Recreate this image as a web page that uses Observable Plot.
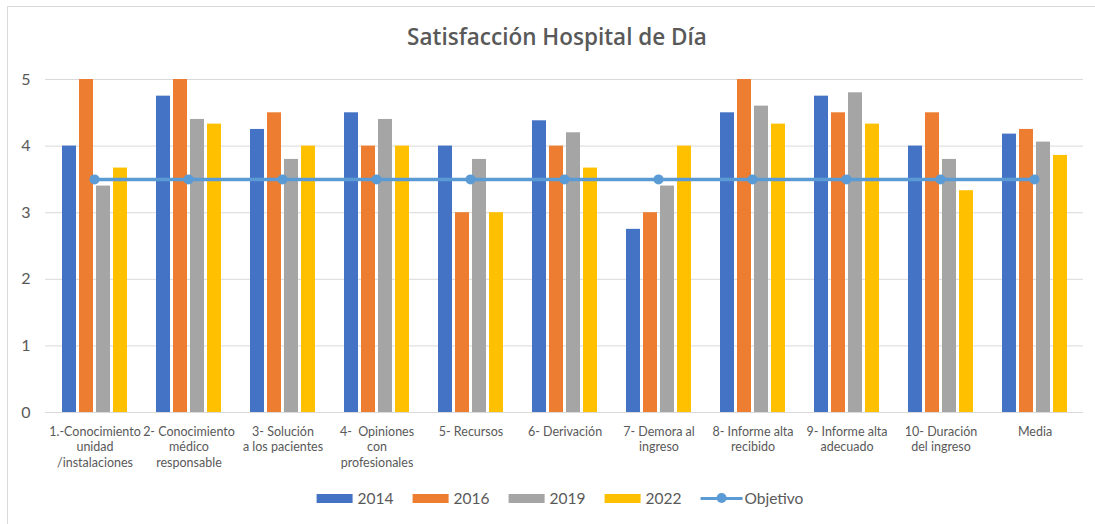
<!DOCTYPE html>
<html>
<head>
<meta charset="utf-8">
<script src="https://cdn.jsdelivr.net/npm/d3@7"></script>
<script src="https://cdn.jsdelivr.net/npm/@observablehq/plot@0.6"></script>
<style>
  html, body { margin: 0; padding: 0; background: #fff; overflow: hidden; }
  body { width: 1095px; height: 524px; position: relative; font-family: Lato, "Open Sans", sans-serif; }
  #frame { position: absolute; left: 7px; top: 6px; right: -10px; bottom: -10px; border-left: 1px solid #d9d9d9; border-top: 1px solid #d9d9d9; }
  #title { position: absolute; top: 23px; left: 557px; transform: translateX(-50%); white-space: nowrap;
           font-family: "Open Sans", sans-serif; font-weight: 600; font-size: 22.5px; line-height: 28px; color: #595959; }
  #chart { position: absolute; left: 0; top: 0; width: 1095px; height: 480px; }
  #chart svg { position: absolute; left: 0; top: 0; }
  #legend { position: absolute; top: 489px; left: 560px; transform: translateX(-50%); display: flex; align-items: center;
            white-space: nowrap; font-size: 15.5px; color: #595959; }
  .item { display: flex; align-items: center; margin-right: 19px; }
  .item:last-child { margin-right: 0; }
  .sw { width: 36px; height: 9px; margin-right: 5px; }
  .ln { position: relative; width: 42px; height: 9px; margin-right: 2px; }
  .ln .bar { position: absolute; left: 0; right: 0; top: 3px; height: 3.5px; background: #5B9BD5; }
  .ln .pt { position: absolute; left: 16px; top: -0.5px; width: 10px; height: 10px; border-radius: 50%; background: #5B9BD5; }
</style>
</head>
<body>
<div id="frame"></div>
<div id="title">Satisfacción Hospital de Día</div>
<div id="chart"></div>
<div id="legend"></div>
<script>
// ---- Data ----
const categories = [
  "1.-Conocimiento\nunidad\n/instalaciones",
  "2- Conocimiento\nmédico\nresponsable",
  "3- Solución\na los pacientes",
  "4-  Opiniones\ncon\nprofesionales",
  "5- Recursos",
  "6- Derivación",
  "7- Demora al\ningreso",
  "8- Informe alta\nrecibido",
  "9- Informe alta\nadecuado",
  "10- Duración\ndel ingreso",
  "Media"
];
const years = ["2014", "2016", "2019", "2022"];
const v2014 = [4.00, 4.75, 4.25, 4.50, 4.00, 4.38, 2.75, 4.50, 4.75, 4.00, 4.18];
const v2016 = [5.00, 5.00, 4.50, 4.00, 3.00, 4.00, 3.00, 5.00, 4.50, 4.50, 4.25];
const v2019 = [3.40, 4.40, 3.80, 4.40, 3.80, 4.20, 3.40, 4.60, 4.80, 3.80, 4.06];
const v2022 = [3.67, 4.33, 4.00, 4.00, 3.00, 3.67, 4.00, 4.33, 4.33, 3.33, 3.86];
const objetivo = [3.5, 3.5, 3.5, 3.5, 3.5, 3.5, 3.5, 3.5, 3.5, 3.5, 3.5];
const yTicks = [0, 1, 2, 3, 4, 5];
const seriesColors = ["#4472C4", "#ED7D31", "#A5A5A5", "#FFC000"];
const objetivoColor = "#5B9BD5";

const seriesValues = [v2014, v2016, v2019, v2022];
const table = [];
categories.forEach((c, i) => years.forEach((yr, k) => table.push({cat: c, year: yr, value: seriesValues[k][i]})));

// ---- Shared layout ----
const W = 1095, H = 480;
const common = {width: W, height: H, marginLeft: 45, marginRight: 12, marginTop: 79, marginBottom: 68,
  style: {background: "transparent", overflow: "visible", fontFamily: "Lato, sans-serif", color: "#595959"}};
const yScale = {domain: [0, 5]};

// Layer A: gridlines and axes
const layerA = Plot.plot({
  ...common,
  x: {type: "band", domain: categories, paddingInner: 0.31, paddingOuter: 0.155},
  y: {...yScale},
  marks: [
    Plot.ruleY(yTicks, {stroke: "#d9d9d9", strokeWidth: 1}),
    Plot.axisY(yTicks, {tickSize: 0, tickPadding: 15, fontSize: 16, fill: "#595959", label: null, tickFormat: d => String(d)}),
    Plot.axisX({tickSize: 0, tickPadding: 12, fontSize: 12.5, lineHeight: 1.25, fill: "#595959", label: null, tickFormat: d => d, textAnchor: "middle"})
  ]
});

// Layer B: clustered bars
const layerB = Plot.plot({
  ...common,
  fx: {domain: categories, paddingInner: 0.31, paddingOuter: 0.155, axis: null, label: null},
  x: {domain: years, paddingInner: 0.2, paddingOuter: 0, axis: null},
  y: {...yScale, axis: null},
  color: {domain: years, range: seriesColors},
  marks: [
    Plot.barY(table, {fx: "cat", x: "year", y: "value", fill: "year"})
  ]
});

// Layer C: Objetivo line
const layerC = Plot.plot({
  ...common,
  x: {type: "point", domain: categories, padding: 0.5, axis: null},
  y: {...yScale, axis: null},
  marks: [
    Plot.lineY(objetivo, {x: categories, y: d => d, stroke: objetivoColor, strokeWidth: 3.5}),
    Plot.dot(objetivo, {x: categories, y: d => d, r: 5, fill: objetivoColor})
  ]
});

const chart = document.getElementById("chart");
chart.append(layerA, layerB, layerC);

// ---- Legend ----
const legend = document.getElementById("legend");
years.forEach((yr, k) => {
  const it = document.createElement("div");
  it.className = "item";
  it.innerHTML = `<span class="sw" style="background:${seriesColors[k]}"></span><span>${yr}</span>`;
  legend.append(it);
});
const it = document.createElement("div");
it.className = "item";
it.innerHTML = `<span class="ln"><span class="bar"></span><span class="pt"></span></span><span>Objetivo</span>`;
legend.append(it);
</script>
</body>
</html>
